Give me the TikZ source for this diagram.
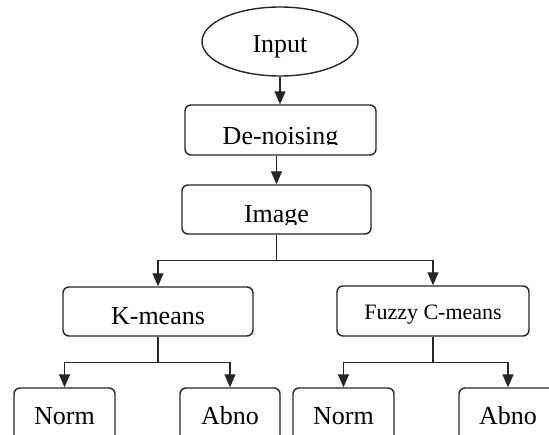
\documentclass[tikz,border=0pt]{standalone}
\usepackage{fontspec}
\setmainfont{Liberation Serif}
\usetikzlibrary{arrows.meta,shapes.geometric}
\begin{document}
\begin{tikzpicture}[x=1pt,y=-1pt,
  box/.style={draw=black!85, line width=1.4pt, rounded corners=6pt, inner sep=0pt},
  ell/.style={draw=black!85, line width=1.4pt, ellipse, inner sep=0pt},
  lbl/.style={font=\fontsize{26}{30}\selectfont, inner sep=0pt, anchor=base, text=black},
  slbl/.style={lbl, font=\fontsize{22}{26}\selectfont},
  conn/.style={draw=black!85, line width=1.4pt},
  arr/.style={conn, -{Triangle[length=13pt,width=11pt]}}]
\useasboundingbox (0,0) rectangle (549,435);
\fill[white] (0,0) rectangle (549,435);
\clip (0,0) rectangle (549,435);

% nodes
\node[ell, minimum width=156pt, minimum height=69pt] (input) at (280,41.5) {};
\node[lbl] (tinput) at (280,53) {Input};

\node[box, minimum width=191pt, minimum height=50pt] (denoise) at (280.5,130) {};
\begin{scope}
  \clip (186,106) rectangle (375,145);
  \node[lbl] (tdenoise) at (280.5,144.5) {De-noising};
\end{scope}

\node[box, minimum width=189pt, minimum height=49pt] (image) at (276.5,209.5) {};
\begin{scope}
  \clip (183,186) rectangle (370,225);
  \node[lbl] (timage) at (276.5,222.5) {Image};
\end{scope}

\node[box, minimum width=190pt, minimum height=49pt] (kmeans) at (158,311.5) {};
\node[lbl] (tkmeans) at (158,325) {K-means};

\node[box, minimum width=192pt, minimum height=50pt] (fuzzy) at (433,311) {};
\node[slbl] (tfuzzy) at (433,320) {Fuzzy C-means};

\node[box, minimum width=101pt, minimum height=62pt] (norma) at (64.5,419) {};
\node[lbl] (tnorma) at (64.5,425) {Norm};
\node[box, minimum width=100pt, minimum height=62pt] (abnoa) at (230,419) {};
\node[lbl] (tabnoa) at (230,425) {Abno};
\node[box, minimum width=101pt, minimum height=62pt] (normb) at (343.5,419) {};
\node[lbl] (tnormb) at (343.5,425) {Norm};
\node[box, minimum width=98pt, minimum height=62pt] (abnob) at (508,419) {};
\node[lbl] (tabnob) at (508,425) {Abno};

% connectors
\draw[arr] (input.south) -- (input.south |- denoise.north);
\draw[arr] (image.north |- denoise.south) -- (image.north);

\draw[conn] (image.south) -- ++(0,26) coordinate (j1);
\draw[arr] (j1) -| (kmeans.north);
\draw[arr] (j1) -| (fuzzy.north);

\draw[conn] (kmeans.south) -- ++(0,26) coordinate (j2);
\draw[arr] (j2) -| (norma.north);
\draw[arr] (j2) -| (abnoa.north);

\draw[conn] (fuzzy.south) -- ++(0,26) coordinate (j3);
\draw[arr] (j3) -| (normb.north);
\draw[arr] (j3) -| (abnob.north);
\end{tikzpicture}
\end{document}
